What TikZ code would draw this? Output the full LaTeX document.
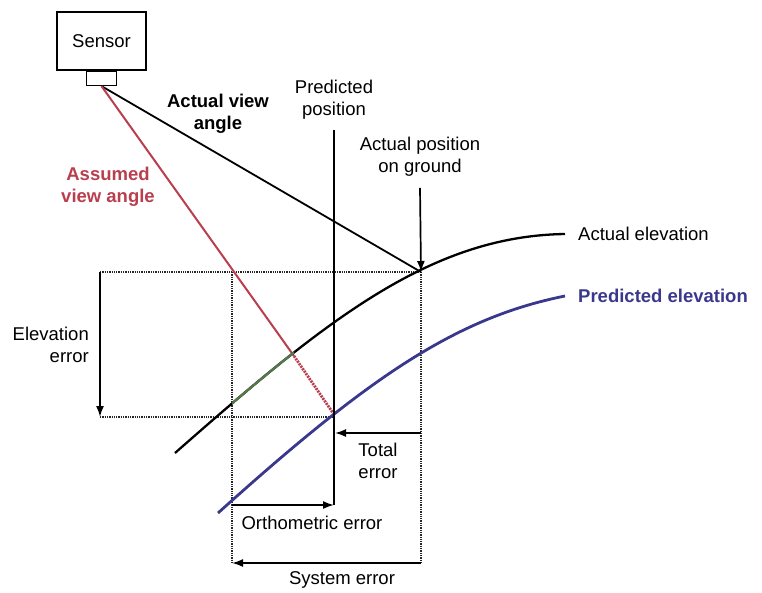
\documentclass[tikz,border=0pt]{standalone}
\usepackage{xcolor}
\usepackage{fontspec}
\setmainfont{Liberation Sans}
\usepackage{tikz}
\usetikzlibrary{arrows.meta,positioning,calc}

\definecolor{assumedred}{RGB}{185,62,78}
\definecolor{predblue}{RGB}{58,56,140}
\definecolor{overlapgreen}{RGB}{85,120,75}
\newcommand{\diafont}{\fontsize{18.5}{22}\selectfont}

\begin{document}
\begin{tikzpicture}[
    x=1pt, y=-1pt,
    lbl/.style={font=\diafont, align=center, inner sep=0pt},
    sensorbox/.style={rectangle, draw=black, line width=1.4pt, minimum width=89pt, minimum height=58pt, inner sep=0pt, font=\diafont},
    footbox/.style={rectangle, draw=black, line width=1.4pt, minimum width=30pt, minimum height=14pt, inner sep=0pt},
    viewline/.style={draw=black, line width=1.8pt},
    assumed/.style={draw=assumedred, line width=2pt},
    elevcurve/.style={line width=2.3pt},
    guide/.style={densely dotted, line width=1.3pt, draw=black!85},
    dimarrow/.style={-{Latex[length=11pt,width=8pt]}, line width=1.7pt, draw=black}
]
    \useasboundingbox (0,0) rectangle (762,592);

    \node [sensorbox] (sensor) at (101.5,41) {Sensor};
    \node [footbox, anchor=north] (foot) at (sensor.south) {};

    \coordinate (ground) at (421,272);
    \coordinate (pred) at (333,413);
    \coordinate (cross) at (294,356);
    \coordinate (elevtop) at (100,272);
    \coordinate (elevbot) at (100,417);

    \node [lbl, font=\diafont\bfseries] (actview) at (218,114) {Actual view\\angle};
    \node [lbl, font=\diafont\bfseries, text=assumedred] (assview) at (108,187) {Assumed\\view angle};
    \node [lbl] (predpos) at (334,100) {Predicted\\position};
    \node [lbl] (actpos) at (420,157) {Actual position\\on ground};
    \node [lbl, anchor=west] (actelev) at (578,234) {Actual elevation};
    \node [lbl, anchor=west, font=\diafont\bfseries, text=predblue] (predelev) at (578,296) {Predicted elevation};
    \node [lbl, anchor=east, align=right] (elevlbl) at (89,345) {Elevation\\error};
    \node [lbl] (totallbl) at (378,461) {Total\\error};
    \node [lbl] (ortholbl) at (312,523) {Orthometric error};
    \node [lbl] (syslbl) at (342,580) {System error};

    \coordinate (predtop) at ($(predpos.south)+(0,10)$);
    \coordinate (orthoend) at (334,505);
    \coordinate (groundtop) at ($(actpos.south)+(0,11)$);

    \draw [guide] (elevtop) -- (ground);
    \draw [guide] (elevbot) -- (pred |- elevbot);
    \draw [guide] (232,272) -- (232,563);
    \draw [guide] (ground) -- (421,563);

    \draw [viewline] (foot.south) -- (ground);
    \draw [assumed] (foot.south) -- (cross);
    \draw [assumed, densely dotted, line width=2.8pt] (cross) -- (pred);

    \draw [elevcurve, draw=black] (175,453) .. controls (325,321) and (430,236) .. (565,234);
    \begin{scope}
        \clip (232,0) rectangle (294,592);
        \draw [elevcurve, draw=overlapgreen] (175,453) .. controls (325,321) and (430,236) .. (565,234);
    \end{scope}
    \draw [elevcurve, draw=predblue, line width=2.8pt] (218,513) .. controls (368,378) and (455,318) .. (565,296);

    \draw [viewline, line width=1.6pt] (predtop) -- (orthoend);
    \draw [dimarrow] (groundtop) -- (ground);
    \draw [dimarrow] (elevtop) -- (elevbot);
    \draw [dimarrow] (421,433) -- (335,433);
    \draw [dimarrow] (232,505) -- (orthoend);
    \draw [dimarrow] (421,563) -- (232,563);
\end{tikzpicture}
\end{document}
